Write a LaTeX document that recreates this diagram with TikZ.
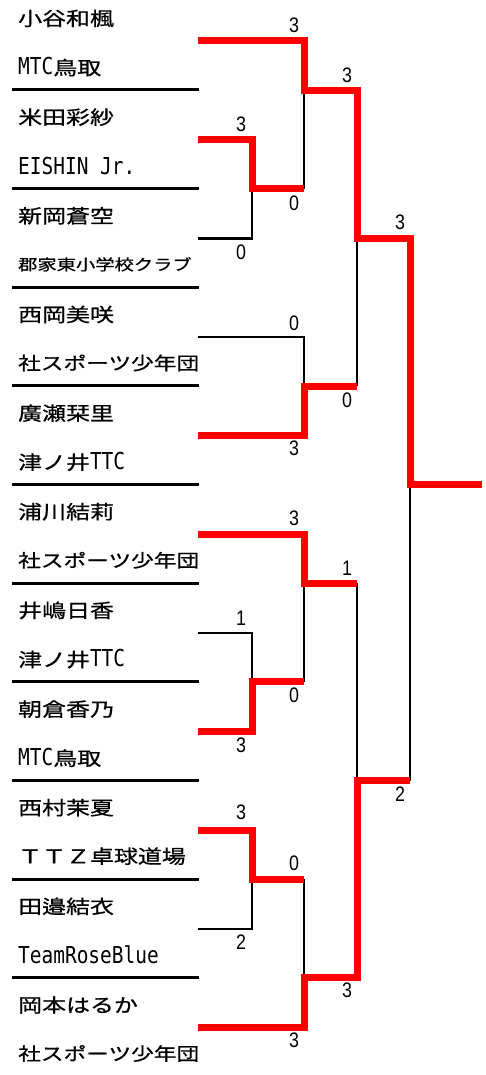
\documentclass[tikz,border=0pt]{standalone}
\usepackage{fontspec}
\newfontfamily\jpf[FakeStretch=1.26,FakeBold=0.8]{Noto Sans CJK JP}
\newfontfamily\latf[FakeStretch=0.835]{DejaVu Sans Mono}
\newfontfamily\numf[FakeStretch=0.85]{Liberation Sans}
\newcommand{\LT}[1]{{\fontsize{23.3}{24}\latf #1}}
\begin{document}
\begin{tikzpicture}[x=1pt,y=-1pt,
  pname/.style={anchor=west, inner sep=0pt, font=\fontsize{19}{20}\jpf},
  pteam/.style={anchor=west, inner sep=0pt, font=\fontsize{18}{20}\jpf},
  score/.style={inner sep=0pt, font=\fontsize{21}{22}\numf},
  win/.style={draw=red, line width=7pt, line join=miter},
  lose/.style={draw=black, line width=2.7pt},
  sepline/.style={draw=black, line width=3pt}]
\useasboundingbox (0,0) rectangle (485,1075);
% separators
\foreach \k in {0,...,9} {
  \coordinate (sa\k) at (12,{90+98.65*\k});
  \coordinate (sb\k) at (199,{90+98.65*\k});
  \draw[sepline] (sa\k) -- (sb\k);
}
% entry points
\foreach \k in {0,...,10} \coordinate (p\k) at (198,{41+98.65*\k});
% match points
\coordinate (mA) at (252,188.7);
\coordinate (mB) at (304,90.5);
\coordinate (mC) at (304,386);
\coordinate (mD) at (357,238.3);
\coordinate (mE) at (252,681.9);
\coordinate (mF) at (304,583.3);
\coordinate (mG) at (252,879.2);
\coordinate (mH) at (304,977.9);
\coordinate (mI) at (357,780.6);
\coordinate (mX) at (410,484.6);
\coordinate (fin) at (482,484.6);
% names and teams
\node[pname] (n0) at (18,{18.5+98.65*0}) {小谷和楓};
\node[pteam, font=\fontsize{19}{20}\jpf] (t0) at (18,{67+98.65*0}) {\LT{MTC}鳥取};
\node[pname] (n1) at (18,{18.5+98.65*1}) {米田彩紗};
\node[pteam] (t1) at (18,{67+98.65*1}) {\LT{EISHIN Jr.}};
\node[pname] (n2) at (18,{18.5+98.65*2}) {新岡蒼空};
\node[pteam, font=\fontsize{15.3}{17}\jpf] (t2) at (18,{67+98.65*2}) {郡家東小学校クラブ};
\node[pname] (n3) at (18,{18.5+98.65*3}) {西岡美咲};
\node[pteam] (t3) at (18,{67+98.65*3}) {社スポーツ少年団};
\node[pname] (n4) at (18,{18.5+98.65*4}) {廣瀬栞里};
\node[pteam, font=\fontsize{19}{20}\jpf] (t4) at (18,{67+98.65*4}) {津ノ井\LT{TTC}};
\node[pname] (n5) at (18,{18.5+98.65*5}) {浦川結莉};
\node[pteam] (t5) at (18,{67+98.65*5}) {社スポーツ少年団};
\node[pname] (n6) at (18,{18.5+98.65*6}) {井嶋日香};
\node[pteam, font=\fontsize{19}{20}\jpf] (t6) at (18,{67+98.65*6}) {津ノ井\LT{TTC}};
\node[pname] (n7) at (18,{18.5+98.65*7}) {朝倉香乃};
\node[pteam, font=\fontsize{19}{20}\jpf] (t7) at (18,{67+98.65*7}) {\LT{MTC}鳥取};
\node[pname] (n8) at (18,{18.5+98.65*8}) {西村茉夏};
\node[pteam, font=\fontsize{19}{20}\jpf] (t8) at (18,{67+98.65*8}) {ＴＴＺ卓球道場};
\node[pname] (n9) at (18,{18.5+98.65*9}) {田邉結衣};
\node[pteam] (t9) at (18,{67+98.65*9}) {\LT{TeamRoseBlue}};
\node[pname] (n10) at (18,{18.5+98.65*10}) {岡本はるか};
\node[pteam] (t10) at (18,{67+98.65*10}) {社スポーツ少年団};
% losing lines
\draw[lose] (p2) -| (mA);
\draw[lose] (mB) -- (mB |- mA);
\draw[lose] (p3) -| (mC);
\draw[lose] (mD) -- (mD |- mC);
\draw[lose] (mX) -- (mX |- mI);
\draw[lose] (p6) -| (mE);
\draw[lose] (mF) -- (mF |- mE);
\draw[lose] (mI |- mF) -- (mI);
\draw[lose] (p9) -| (mG);
\draw[lose] (mH |- mG) -- (mH);
% winning lines
\draw[win] (p0) -| (mB) -| (mD) -| (mX) -- (fin);
\draw[win] (p1) -| (mA) -- (mB |- mA);
\draw[win] (p4) -| (mC) -- (mD |- mC);
\draw[win] (p5) -| (mF) -- (mI |- mF);
\draw[win] (p7) -| (mE) -- (mF |- mE);
\draw[win] (p8) -| (mG) -- (mH |- mG);
\draw[win] (p10) -| (mH) -| (mI) -- (mX |- mI);
% scores
\node[score] (s1) at (294,25) {3};
\node[score] (s2) at (347,75) {3};
\node[score] (s3) at (241,124) {3};
\node[score] (s4) at (400,222) {3};
\node[score] (s5) at (294,203) {0};
\node[score] (s6) at (241,252) {0};
\node[score] (s7) at (294,323) {0};
\node[score] (s8) at (347,400) {0};
\node[score] (s9) at (294,448) {3};
\node[score] (s10) at (294,518) {3};
\node[score] (s11) at (347,568) {1};
\node[score] (s12) at (241,618) {1};
\node[score] (s13) at (294,695) {0};
\node[score] (s14) at (241,745) {3};
\node[score] (s15) at (400,794) {2};
\node[score] (s16) at (241,812) {3};
\node[score] (s17) at (294,863) {0};
\node[score] (s18) at (241,942) {2};
\node[score] (s19) at (347,990) {3};
\node[score] (s20) at (294,1040) {3};
\end{tikzpicture}
\end{document}
